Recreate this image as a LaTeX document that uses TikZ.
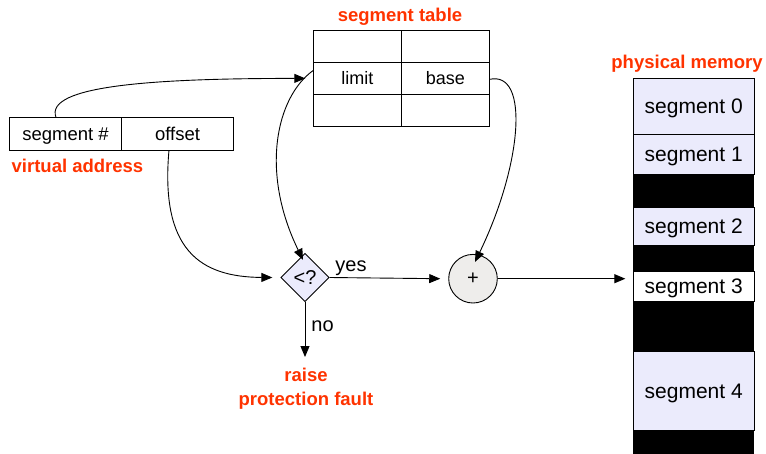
\documentclass[tikz,border=0pt]{standalone}
\usepackage{fontspec}
\setmainfont{Liberation Sans}
\usetikzlibrary{shapes.geometric,arrows.meta}
\definecolor{lbl}{RGB}{255,51,0}
\definecolor{lav}{RGB}{235,235,252}
\definecolor{cgray}{RGB}{238,237,235}
\begin{document}
\begin{tikzpicture}[x=1pt,y=-1pt,line width=0.9pt,
  cell/.style={draw,rectangle,inner sep=0pt,outer sep=0pt,minimum width=88pt,minimum height=32pt,text depth=0pt,font=\fontsize{18}{21}\selectfont},
  vcell/.style={draw,rectangle,inner sep=0pt,outer sep=0pt,minimum width=112pt,minimum height=32.7pt,text depth=0pt,font=\fontsize{18.5}{21}\selectfont},
  mem/.style={draw,rectangle,fill=lav,inner sep=0pt,outer sep=0pt,minimum width=120.7pt,text depth=0pt,font=\fontsize{21}{24}\selectfont},
  gap/.style={rectangle,fill=black,inner sep=0pt,outer sep=0pt,minimum width=120.7pt},
  redlbl/.style={text=lbl,font=\bfseries\fontsize{18.5}{22}\selectfont,inner sep=0pt},
  plain/.style={font=\fontsize{20}{23}\selectfont,inner sep=0pt},
  arr/.style={-{Triangle[length=11pt,width=9pt]},line width=0.9pt}]
\useasboundingbox (0,0) rectangle (766,453);
% segment table
\node[cell] (t11) at (357.3,46.5) {};
\node[cell] (t12) at (445.3,46.5) {};
\node[cell] (limit) at (357.3,78.4) {limit};
\node[cell] (base) at (445.3,78.4) {base};
\node[cell] (t31) at (357.3,110.3) {};
\node[cell] (t32) at (445.3,110.3) {};
\node[redlbl,anchor=base] (sttl) at (400,21) {segment table};
% virtual address
\node[vcell,minimum width=112.4pt] (segnum) at (65.5,133.7) {segment \#};
\node[vcell,minimum width=111.6pt] (offset) at (177.5,133.7) {offset};
\node[redlbl,anchor=base] (vattl) at (77.5,172) {virtual address};
% physical memory
\node[redlbl,anchor=base] (pmttl) at (687,68) {physical memory};
\node[mem,minimum height=56pt] (s0) at (693.7,106.3) {segment 0};
\node[mem,minimum height=39.7pt] (s1) at (693.7,154.2) {segment 1};
\node[gap,minimum height=33pt] (g1) at (693.7,190.5) {};
\node[mem,minimum height=38pt] (s2) at (693.7,226) {segment 2};
\node[gap,minimum height=26pt] (g2) at (693.7,258) {};
\node[mem,fill=white,minimum height=30.7pt] (s3) at (693.7,286.4) {segment 3};
\node[gap,minimum height=50pt] (g3) at (693.7,326.7) {};
\node[mem,minimum height=78.3pt] (s4) at (693.7,390.9) {segment 4};
\node[gap,minimum height=24pt] (g4) at (693.7,442) {};
% diamond and adder
\node[draw,diamond,fill=lav,aspect=1,minimum width=48.4pt,minimum height=48.4pt,inner sep=0pt,font=\fontsize{20}{23}\selectfont] (cmp) at (305,277.5) {<?};
\node[draw,circle,fill=cgray,minimum size=48.6pt,inner sep=0pt,font=\fontsize{20}{23}\selectfont] (plus) at (473,278.7) {+};
\node[redlbl,anchor=base] (fault1) at (306,381.7) {raise};
\node[redlbl,anchor=base] (fault2) at (306,405) {protection fault};
\coordinate (notip) at (305,357);
% connectors
\draw[arr] ([xshift=-9.5pt]segnum.north) .. controls +(-12,-32) and +(-150,0) .. ([xshift=-8pt]limit.west);
\draw[arr] ([yshift=8pt]limit.west) .. controls (276,97) and (260,172) .. ([xshift=-2pt,yshift=-7pt]cmp.north);
\draw[arr] ([xshift=-8.5pt]offset.south) .. controls (160,250) and (200,277) .. ([xshift=-8pt]cmp.west);
\draw[arr] ([yshift=-1pt]base.east) .. controls (530,70) and (522,165) .. ([xshift=2pt,yshift=-8pt]plus.north);
\draw[arr] (cmp.east) -- ([xshift=-8pt]plus.west);
\draw[arr] (cmp.south) -- (notip);
\draw[arr] (plus.east) -- ([xshift=-8pt]plus.east -| s3.west);
\node[plain,anchor=base west] (yes) at (335,271.7) {yes};
\node[plain,anchor=base west] (no) at (311,331) {no};
\end{tikzpicture}
\end{document}
